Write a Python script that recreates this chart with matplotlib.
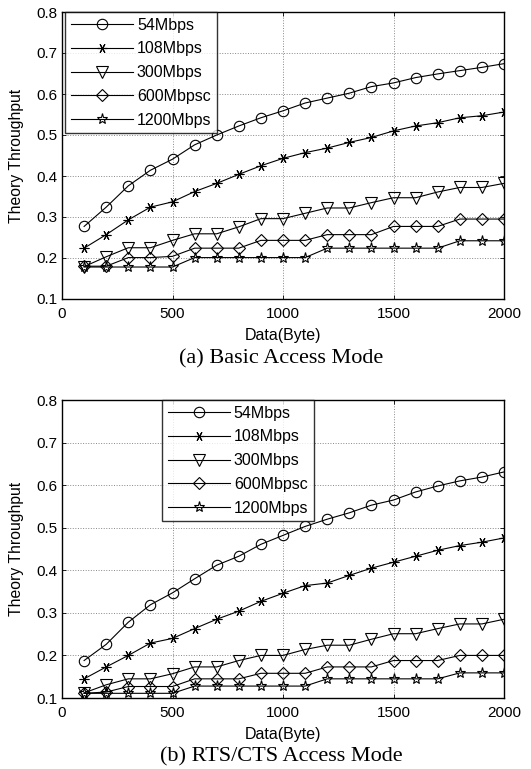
import matplotlib
matplotlib.use("Agg")
import matplotlib.pyplot as plt

x = [100, 200, 300, 400, 500, 600, 700, 800, 900, 1000,
     1100, 1200, 1300, 1400, 1500, 1600, 1700, 1800, 1900, 2000]
labels = ["54Mbps", "108Mbps", "300Mbps", "600Mbpsc", "1200Mbps"]

basic_54 = [0.277, 0.324, 0.376, 0.414, 0.441, 0.476, 0.500, 0.522, 0.542, 0.559,
            0.578, 0.590, 0.602, 0.618, 0.627, 0.640, 0.649, 0.657, 0.665, 0.674]
basic_108 = [0.224, 0.257, 0.293, 0.324, 0.337, 0.362, 0.382, 0.404, 0.425, 0.443,
             0.457, 0.468, 0.482, 0.494, 0.510, 0.522, 0.530, 0.542, 0.547, 0.556]
basic_300 = [0.179, 0.203, 0.225, 0.225, 0.243, 0.259, 0.259, 0.276, 0.296, 0.296,
             0.309, 0.322, 0.322, 0.335, 0.347, 0.347, 0.361, 0.372, 0.372, 0.382]
basic_600 = [0.180, 0.180, 0.201, 0.201, 0.204, 0.224, 0.224, 0.224, 0.243, 0.243,
             0.243, 0.257, 0.257, 0.257, 0.277, 0.277, 0.277, 0.295, 0.295, 0.295]
basic_1200 = [0.178, 0.178, 0.178, 0.178, 0.178, 0.201, 0.201, 0.201, 0.201, 0.201,
              0.201, 0.224, 0.224, 0.224, 0.224, 0.224, 0.224, 0.242, 0.242, 0.242]

rts_54 = [0.188, 0.226, 0.278, 0.319, 0.347, 0.380, 0.412, 0.433, 0.461, 0.482,
          0.503, 0.520, 0.535, 0.553, 0.565, 0.584, 0.598, 0.610, 0.619, 0.631]
rts_108 = [0.145, 0.173, 0.200, 0.229, 0.240, 0.263, 0.285, 0.304, 0.327, 0.346,
           0.364, 0.370, 0.388, 0.405, 0.419, 0.433, 0.447, 0.458, 0.466, 0.476]
rts_300 = [0.112, 0.131, 0.145, 0.145, 0.157, 0.173, 0.173, 0.188, 0.200, 0.200,
           0.214, 0.224, 0.224, 0.238, 0.251, 0.251, 0.263, 0.274, 0.274, 0.285]
rts_600 = [0.111, 0.114, 0.127, 0.127, 0.127, 0.145, 0.145, 0.145, 0.158, 0.158,
           0.158, 0.173, 0.173, 0.173, 0.188, 0.188, 0.188, 0.200, 0.200, 0.200]
rts_1200 = [0.111, 0.111, 0.111, 0.111, 0.111, 0.128, 0.128, 0.128, 0.128, 0.128,
            0.128, 0.145, 0.145, 0.145, 0.145, 0.145, 0.145, 0.159, 0.159, 0.159]

xticks = [0, 500, 1000, 1500, 2000]
yticks = [0.1, 0.2, 0.3, 0.4, 0.5, 0.6, 0.7, 0.8]

plt.rcParams['font.family'] = ['Liberation Sans', 'DejaVu Sans']

markers = ['o', (6, 2, 90), 'v', 'D', '*']
msizes = [7.5, 7, 8, 6, 8]

fig = plt.figure(figsize=(5.31, 7.69), dpi=100)
W, H = 531, 769

def make_ax(top_px, bot_px):
    l, r = 62, 504
    return fig.add_axes([l / W, 1 - bot_px / H, (r - l) / W, (bot_px - top_px) / H])

ax1 = make_ax(12, 299)
ax2 = make_ax(400, 698)

def draw(ax, series, legend_loc):
    for ys, lab, m, ms in zip(series, labels, markers, msizes):
        ax.plot(x, ys, color='black', lw=0.8, marker=m, markersize=ms,
                markerfacecolor='none', markeredgecolor='black',
                markeredgewidth=0.8, label=lab)
    ax.set_xlim(0, 2000)
    ax.set_ylim(0.1, 0.8)
    ax.set_xticks(xticks)
    ax.set_yticks(yticks)
    ax.set_yticklabels([f"{v:.1f}" for v in yticks])
    ax.tick_params(direction='in', top=True, right=True, labelsize=11,
                   length=3, width=0.6)
    ax.tick_params(axis='x', pad=6)
    ax.tick_params(axis='y', pad=3)
    ax.grid(True, color='#888888', linestyle=':', linewidth=0.7)
    for s in ax.spines.values():
        s.set_linewidth(1.0)
        s.set_color('black')
    ax.set_xlabel('Data(Byte)', fontsize=11.5, labelpad=5)
    ax.set_ylabel('Theory Throughput', fontsize=11.3, labelpad=9)
    leg = ax.legend(loc='upper left', bbox_to_anchor=legend_loc, fontsize=11.5,
                    frameon=True, fancybox=False, edgecolor='black',
                    handlelength=3.9, handletextpad=0.25, borderpad=0.35,
                    labelspacing=0.55, borderaxespad=0.0)
    leg.get_frame().set_linewidth(1.0)

draw(ax1, [basic_54, basic_108, basic_300, basic_600, basic_1200],
     ((65 - 62) / 442, 1.0))
draw(ax2, [rts_54, rts_108, rts_300, rts_600, rts_1200],
     ((162 - 62) / 442, 1.0))

fig.text(281 / W, 1 - 359 / H, '(a) Basic Access Mode', ha='center', va='center',
         fontsize=16, family='Liberation Serif')
fig.text(281 / W, 1 - 757 / H, '(b) RTS/CTS Access Mode', ha='center', va='center',
         fontsize=16, family='Liberation Serif')

fig.savefig('out.png', dpi=100)
